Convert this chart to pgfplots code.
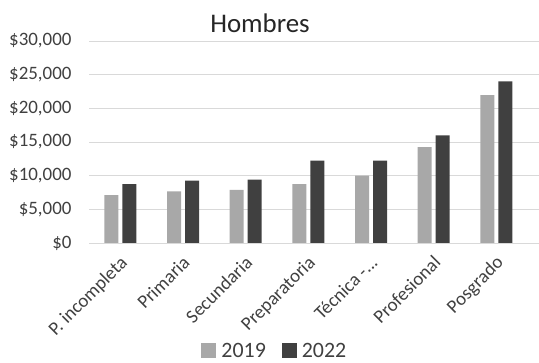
\documentclass[border=0pt]{standalone}
\usepackage{pgfplots}
\pgfplotsset{compat=1.18}
\usepackage{fontspec}
\setmainfont{Carlito}
\definecolor{c19}{HTML}{A8A8A8}
\definecolor{c22}{HTML}{404040}
\definecolor{grid}{HTML}{D9D9D9}
\definecolor{txt}{HTML}{404040}
\begin{document}
\begin{tikzpicture}
\useasboundingbox (0,0) rectangle (539bp,363bp);
\begin{axis}[
  at={(89bp,120bp)}, anchor=south west,
  scale only axis, width=450bp, height=202bp,
  xmin=-0.5, xmax=6.68, ymin=0, ymax=30000,
  scaled y ticks=false,
  ybar, bar width=14bp,
  axis x line*=bottom, axis y line*=left,
  x axis line style={draw=grid, line width=0.8pt},
  y axis line style={draw=none},
  xtick={0,1,2,3,4,5,6}, xtick style={draw=none},
  xticklabels={{P. incompleta},{Primaria},{Secundaria},{Preparatoria},{Técnica -.{}.{}.},{Profesional},{Posgrado}},
  xticklabel style={rotate=45, anchor=north east, font=\fontsize{19}{21}\selectfont, text=txt, inner sep=1bp, yshift=-3bp, xshift=-5bp},
  ytick={0,5000,10000,15000,20000,25000,30000},
  yticklabels={{\$0},{\$5,000},{\$10,000},{\$15,000},{\$20,000},{\$25,000},{\$30,000}},
  ymajorgrids, grid style={draw=grid, line width=0.8pt},
  ytick style={draw=none},
  yticklabel style={font=\fontsize{19}{21}\selectfont, text=txt, xshift=-14bp},
  /pgf/number format/assume math mode=true,
  legend style={at={(0.413,-0.535)}, anchor=center, draw=none, fill=none,
    legend columns=2, font=\fontsize{22}{24}\selectfont, text=txt, inner sep=0pt,
    /tikz/every even column/.append style={column sep=14bp},
    /tikz/every odd column/.append style={column sep=3bp}},
  legend image code/.code={\fill[#1] (0bp,-7bp) rectangle (15bp,8bp);},
]
\addplot[fill=c19, draw=none, bar shift=-9bp] coordinates {(0,7100) (1,7650) (2,7900) (3,8730) (4,10020) (5,14250) (6,21970)};
\addplot[fill=c22, draw=none, bar shift=9bp] coordinates {(0,8730) (1,9280) (2,9430) (3,12250) (4,12250) (5,15970) (6,24000)};
\legend{2019,2022}
\end{axis}
\node[anchor=base, font=\fontsize{27}{30}\selectfont, text=black!85] at (260bp,330bp) {Hombres};
\end{tikzpicture}
\end{document}
